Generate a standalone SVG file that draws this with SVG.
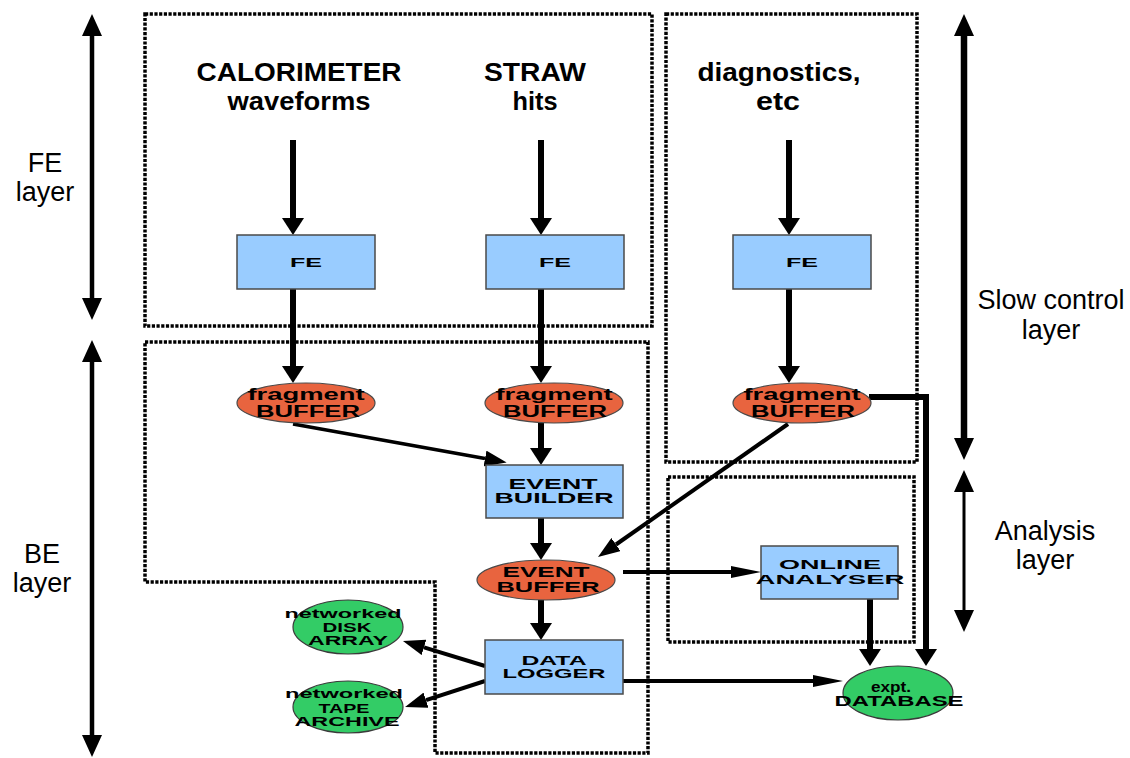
<svg xmlns="http://www.w3.org/2000/svg" width="1130" height="758" viewBox="0 0 1130 758">
<style>
.dot{fill:none;stroke:#000;stroke-width:3.5;stroke-dasharray:3.2 1.5}
.box{fill:#99ccff;stroke:#4a4a4a;stroke-width:1.5}
.buf{fill:#e8643f;stroke:#4a4a4a;stroke-width:1.2}
.grn{fill:#33cc66;stroke:#3a3a3a;stroke-width:1.2}
.t{font-family:"Liberation Sans",Arial,sans-serif;font-weight:bold;fill:#000;text-anchor:middle}
.title{font-family:"Liberation Sans",Arial,sans-serif;font-weight:bold;font-size:25.5px;fill:#000;text-anchor:middle}
.side{font-family:"Liberation Sans",Arial,sans-serif;font-size:27px;fill:#000;text-anchor:middle}
.c{fill:none;stroke:#000}
.w6{stroke-width:6}
.w4{stroke-width:4}
.w3{stroke-width:3.5}
</style>
<defs>
<marker id="hThick" markerUnits="userSpaceOnUse" markerWidth="18" markerHeight="22" refX="0" refY="11" orient="auto"><path d="M0,0 L17,11 L0,22 z" fill="#000"/></marker>
<marker id="hMed" markerUnits="userSpaceOnUse" markerWidth="22" markerHeight="16" refX="0" refY="8" orient="auto"><path d="M0,0 L22,8 L0,16 z" fill="#000"/></marker>
<marker id="hLong" markerUnits="userSpaceOnUse" markerWidth="30" markerHeight="12" refX="0" refY="6" orient="auto"><path d="M0,0 L30,6 L0,12 z" fill="#000"/></marker>
<marker id="hSide" markerUnits="userSpaceOnUse" markerWidth="22" markerHeight="20" refX="0" refY="10" orient="auto-start-reverse"><path d="M0,0 L22,10 L0,20 z" fill="#000"/></marker>
</defs>
<rect width="1130" height="758" fill="#fff"/>

<g id="regions">
<rect class="dot" x="145" y="14" width="507" height="312"/>
<rect class="dot" x="666" y="14" width="251" height="448"/>
<path class="dot" d="M145,342 H648 V753 H435 V582 H145 Z"/>
<rect class="dot" x="668" y="477" width="246" height="165"/>
</g>

<g id="layer-labels">
<line class="c" x1="92" y1="36" x2="92" y2="298" stroke-width="4.5" marker-start="url(#hSide)" marker-end="url(#hSide)"/>
<line class="c" x1="92" y1="362" x2="92" y2="735" stroke-width="4.5" marker-start="url(#hSide)" marker-end="url(#hSide)"/>
<line class="c" x1="964" y1="36" x2="964" y2="438" stroke-width="6.5" marker-start="url(#hSide)" marker-end="url(#hSide)"/>
<line class="c" x1="964" y1="492" x2="964" y2="610" stroke-width="3" marker-start="url(#hSide)" marker-end="url(#hSide)"/>
<text class="side" x="45" y="172">FE</text>
<text class="side" x="45" y="201">layer</text>
<text class="side" x="42" y="563">BE</text>
<text class="side" x="42" y="592">layer</text>
<text class="side" x="1051" y="309">Slow control</text>
<text class="side" x="1051" y="339">layer</text>
<text class="side" x="1045" y="540">Analysis</text>
<text class="side" x="1045" y="569">layer</text>
</g>

<g id="sources">
<text class="title" x="299" y="81" textLength="205" lengthAdjust="spacingAndGlyphs">CALORIMETER</text>
<text class="title" x="299" y="110" textLength="143" lengthAdjust="spacingAndGlyphs">waveforms</text>
<text class="title" x="535" y="81" textLength="102" lengthAdjust="spacingAndGlyphs">STRAW</text>
<text class="title" x="535" y="110" textLength="45" lengthAdjust="spacingAndGlyphs">hits</text>
<text class="title" x="779" y="81" textLength="163" lengthAdjust="spacingAndGlyphs">diagnostics,</text>
<text class="title" x="778" y="110" textLength="44" lengthAdjust="spacingAndGlyphs">etc</text>
</g>

<g id="connectors">
<line class="c w6" x1="293" y1="140" x2="293" y2="218" marker-end="url(#hThick)"/>
<line class="c w6" x1="541" y1="140" x2="541" y2="218" marker-end="url(#hThick)"/>
<line class="c w6" x1="789" y1="140" x2="789" y2="218" marker-end="url(#hThick)"/>
<line class="c w6" x1="293" y1="289" x2="293" y2="366" marker-end="url(#hThick)"/>
<line class="c w6" x1="541" y1="289" x2="541" y2="366" marker-end="url(#hThick)"/>
<line class="c w6" x1="789" y1="289" x2="789" y2="366" marker-end="url(#hThick)"/>
<line class="c w6" x1="541" y1="423" x2="541" y2="448" marker-end="url(#hThick)"/>
<line class="c w6" x1="541" y1="518" x2="541" y2="543" marker-end="url(#hThick)"/>
<line class="c w6" x1="541" y1="600" x2="541" y2="623" marker-end="url(#hThick)"/>
<line class="c w3" x1="293" y1="424" x2="485" y2="458.5" marker-end="url(#hMed)"/>
<line class="c w4" x1="788" y1="424" x2="616" y2="544.5" marker-end="url(#hMed)"/>
<line class="c w4" x1="485" y1="666" x2="424" y2="647.4" marker-end="url(#hMed)"/>
<line class="c w4" x1="485" y1="681" x2="426" y2="700.2" marker-end="url(#hMed)"/>
<line class="c w4" x1="623" y1="572" x2="731" y2="572" marker-end="url(#hLong)"/>
<line class="c w4" x1="623" y1="681" x2="813" y2="681" marker-end="url(#hLong)"/>
<line class="c w6" x1="870" y1="599" x2="870" y2="649" marker-end="url(#hThick)"/>
<path class="c w6" d="M869,397 H926 V649" marker-end="url(#hThick)"/>
</g>

<g id="fe1"><rect class="box" x="237" y="235" width="138" height="54"/><text class="t" x="306" y="267" font-size="12" textLength="32" lengthAdjust="spacingAndGlyphs">FE</text></g>
<g id="fe2"><rect class="box" x="486" y="235" width="138" height="54"/><text class="t" x="555" y="267" font-size="12" textLength="32" lengthAdjust="spacingAndGlyphs">FE</text></g>
<g id="fe3"><rect class="box" x="733" y="235" width="138" height="54"/><text class="t" x="802" y="267" font-size="12" textLength="32" lengthAdjust="spacingAndGlyphs">FE</text></g>

<g id="frag1"><ellipse class="buf" cx="306" cy="403" rx="69" ry="20"/><text class="t" x="306" y="400" font-size="16" textLength="117" lengthAdjust="spacingAndGlyphs">fragment</text><text class="t" x="308" y="417" font-size="16" textLength="104" lengthAdjust="spacingAndGlyphs">BUFFER</text></g>
<g id="frag2"><ellipse class="buf" cx="554" cy="403" rx="69" ry="20"/><text class="t" x="554" y="400" font-size="16" textLength="117" lengthAdjust="spacingAndGlyphs">fragment</text><text class="t" x="555" y="417" font-size="16" textLength="104" lengthAdjust="spacingAndGlyphs">BUFFER</text></g>
<g id="frag3"><ellipse class="buf" cx="802" cy="403" rx="69" ry="20"/><text class="t" x="802" y="400" font-size="16" textLength="117" lengthAdjust="spacingAndGlyphs">fragment</text><text class="t" x="803" y="417" font-size="16" textLength="104" lengthAdjust="spacingAndGlyphs">BUFFER</text></g>

<g id="event-builder"><rect class="box" x="486" y="465" width="137" height="53"/><text class="t" x="553" y="489" font-size="14.5" textLength="89" lengthAdjust="spacingAndGlyphs">EVENT</text><text class="t" x="554" y="503" font-size="14.5" textLength="119" lengthAdjust="spacingAndGlyphs">BUILDER</text></g>

<g id="event-buffer"><ellipse class="buf" cx="546" cy="580" rx="69" ry="20"/><text class="t" x="546" y="577" font-size="15" textLength="87" lengthAdjust="spacingAndGlyphs">EVENT</text><text class="t" x="548" y="592" font-size="15" textLength="103" lengthAdjust="spacingAndGlyphs">BUFFER</text></g>

<g id="data-logger"><rect class="box" x="485" y="640" width="138" height="54"/><text class="t" x="554" y="665" font-size="13.5" textLength="65" lengthAdjust="spacingAndGlyphs">DATA</text><text class="t" x="554" y="678" font-size="13.5" textLength="103" lengthAdjust="spacingAndGlyphs">LOGGER</text></g>

<g id="disk-array"><ellipse class="grn" cx="348" cy="627" rx="55" ry="27"/><text class="t" x="343" y="618" font-size="13.5" textLength="117" lengthAdjust="spacingAndGlyphs">networked</text><text class="t" x="347" y="632" font-size="13.5" textLength="49" lengthAdjust="spacingAndGlyphs">DISK</text><text class="t" x="348" y="645" font-size="13.5" textLength="80" lengthAdjust="spacingAndGlyphs">ARRAY</text></g>

<g id="tape-archive"><ellipse class="grn" cx="348" cy="707" rx="55" ry="26"/><text class="t" x="344" y="698" font-size="13.5" textLength="118" lengthAdjust="spacingAndGlyphs">networked</text><text class="t" x="344" y="713" font-size="13.5" textLength="51" lengthAdjust="spacingAndGlyphs">TAPE</text><text class="t" x="347" y="726" font-size="13.5" textLength="105" lengthAdjust="spacingAndGlyphs">ARCHIVE</text></g>

<g id="online-analyser"><rect class="box" x="761" y="546" width="137" height="53"/><text class="t" x="830" y="569" font-size="13.5" textLength="102" lengthAdjust="spacingAndGlyphs">ONLINE</text><text class="t" x="830" y="584" font-size="13.5" textLength="149" lengthAdjust="spacingAndGlyphs">ANALYSER</text></g>

<g id="database"><ellipse class="grn" cx="898" cy="693" rx="55" ry="27"/><text class="t" x="891" y="692" font-size="14.5" textLength="40" lengthAdjust="spacingAndGlyphs">expt.</text><text class="t" x="899" y="706" font-size="14.5" textLength="129" lengthAdjust="spacingAndGlyphs">DATABASE</text></g>
</svg>
